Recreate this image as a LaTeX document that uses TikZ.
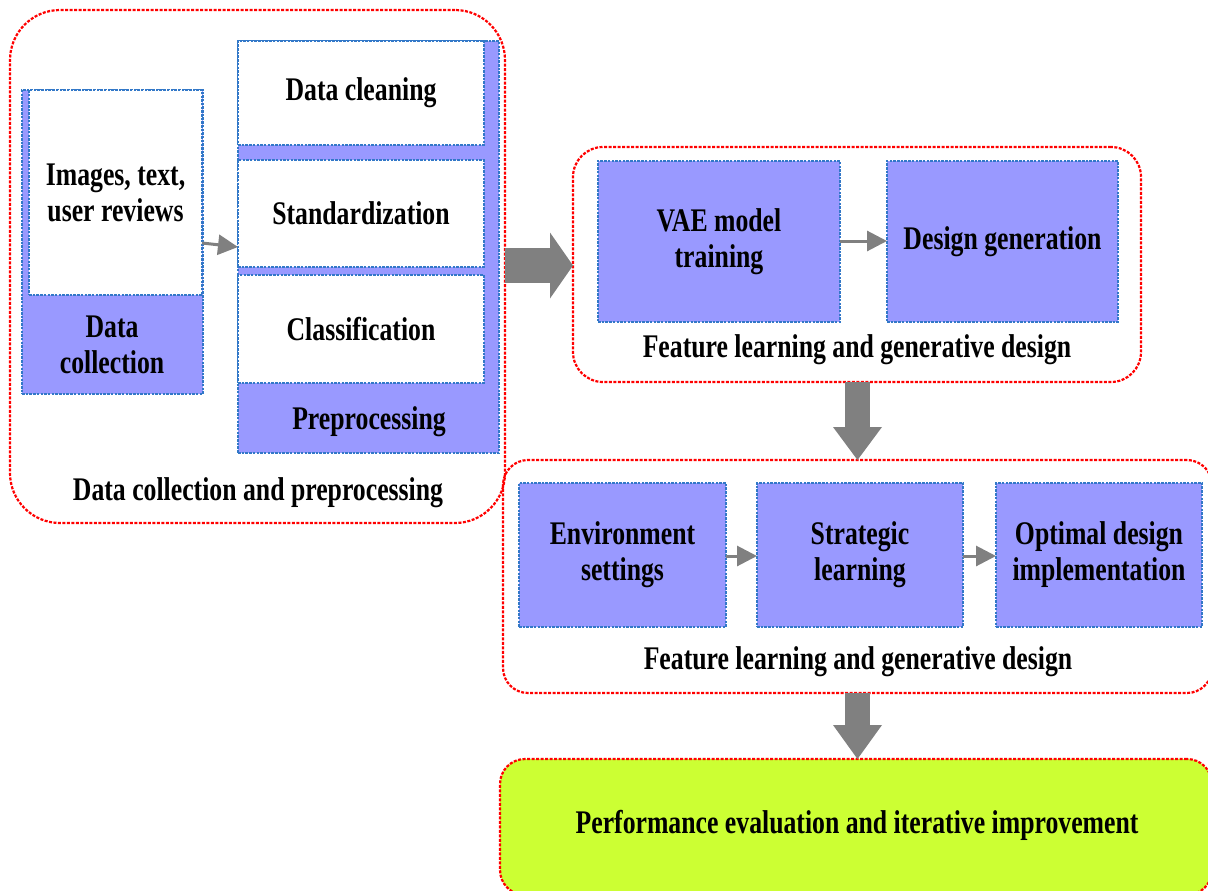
\documentclass[tikz,border=0pt]{standalone}
\usepackage{fontspec}
\setmainfont[FakeStretch=0.78]{Liberation Serif}
\usetikzlibrary{arrows.meta}
\definecolor{pur}{RGB}{153,153,255}
\definecolor{bl}{RGB}{50,120,200}
\definecolor{grn}{RGB}{204,255,51}
\definecolor{gr}{RGB}{128,128,128}
\begin{document}
\begin{tikzpicture}[x=1pt,y=-1pt,
  txt/.style={font=\fontsize{33}{36}\selectfont\bfseries, align=center, inner sep=0pt},
  redbox/.style={draw=red, line width=2.2pt, dash pattern=on 3pt off 1.5pt, rounded corners=#1, inner sep=0pt, outer sep=0pt},
  pbox/.style={draw=bl, fill=pur, line width=2pt, dash pattern=on 2.5pt off 1.2pt, inner sep=0pt, outer sep=0pt, txt},
  wbox/.style={pbox, fill=white},
  sarr/.style={draw=gr, line width=3pt, -{Triangle[length=20pt,width=20pt]}},
  barr/.style={draw=gr, line width=#1},
]
\useasboundingbox (0,0) rectangle (1208,891);
\clip (0,0) rectangle (1208,891);

% ---- group 1: data collection and preprocessing
\node[redbox=50pt, minimum width=495pt, minimum height=513pt] (g1) at (257.5,266.5) {};
\node[txt] (g1t) at (258,493) {Data collection and preprocessing};

\node[pbox, minimum width=181pt, minimum height=304pt] (dc) at (112.5,242) {};
\node[wbox, minimum width=173pt, minimum height=205pt] (img) at (115.5,192.5) {Images, text,\\user reviews};
\node[txt] (dct) at (112,345) {Data\\collection};

\node[pbox, minimum width=261pt, minimum height=412pt] (pp) at (368.5,247) {};
\node[wbox, minimum width=246pt, minimum height=104pt] (clean) at (361,93) {Data cleaning};
\node[wbox, minimum width=246pt, minimum height=107pt] (std) at (361,213.5) {Standardization};
\node[wbox, minimum width=246pt, minimum height=108pt] (cls) at (361,329) {Classification};
\node[txt] (ppt) at (369,422) {Preprocessing};

\draw[sarr] (img.east |- 0,243) -- (std.west |- 0,247);

% ---- group 2
\node[redbox=30pt, minimum width=568pt, minimum height=235pt] (g2) at (857,264.5) {};
\node[pbox, minimum width=242pt, minimum height=161pt] (vae) at (719,241.5) {VAE model\\training};
\node[pbox, minimum width=231pt, minimum height=161pt] (gen) at (1002.5,241.5) {Design generation};
\node[txt] (g2t) at (857,350) {Feature learning and generative design};
\draw[sarr] (vae.east |- 0,241) -- (gen.west |- 0,241);

% ---- group 3
\node[redbox=25pt, minimum width=709pt, minimum height=233pt] (g3) at (857.5,576.5) {};
\node[pbox, minimum width=207pt, minimum height=144pt] (env) at (622.5,555) {Environment\\settings};
\node[pbox, minimum width=206pt, minimum height=144pt] (strat) at (860,555) {Strategic\\learning};
\node[pbox, minimum width=206pt, minimum height=144pt] (opt) at (1099,555) {Optimal design\\implementation};
\node[txt] (g3t) at (858,662) {Feature learning and generative design};
\draw[sarr] (env.east |- 0,556) -- (strat.west |- 0,556);
\draw[sarr] (strat.east |- 0,556) -- (opt.west |- 0,556);

% ---- group 4
\node[redbox=25pt, fill=grn, minimum width=712pt, minimum height=136pt, txt] (g4) at (856,827) {};
\node[txt] (g4t) at (857,825) {Performance evaluation and iterative improvement};

% ---- big arrows
\coordinate (ay) at (0,265.5);
\coordinate (ax) at (857.5,0);
\draw[barr=35pt, -{Triangle[length=23pt,width=66pt,line width=0pt]}] (g1.east |- ay) -- (g2.west |- ay);
\draw[barr=25pt, -{Triangle[length=33pt,width=49pt,line width=0pt]}] (g2.south -| ax) -- (g3.north -| ax);
\draw[barr=25pt, -{Triangle[length=34pt,width=49pt,line width=0pt]}] (g3.south -| ax) -- (g4.north -| ax);
\end{tikzpicture}
\end{document}
